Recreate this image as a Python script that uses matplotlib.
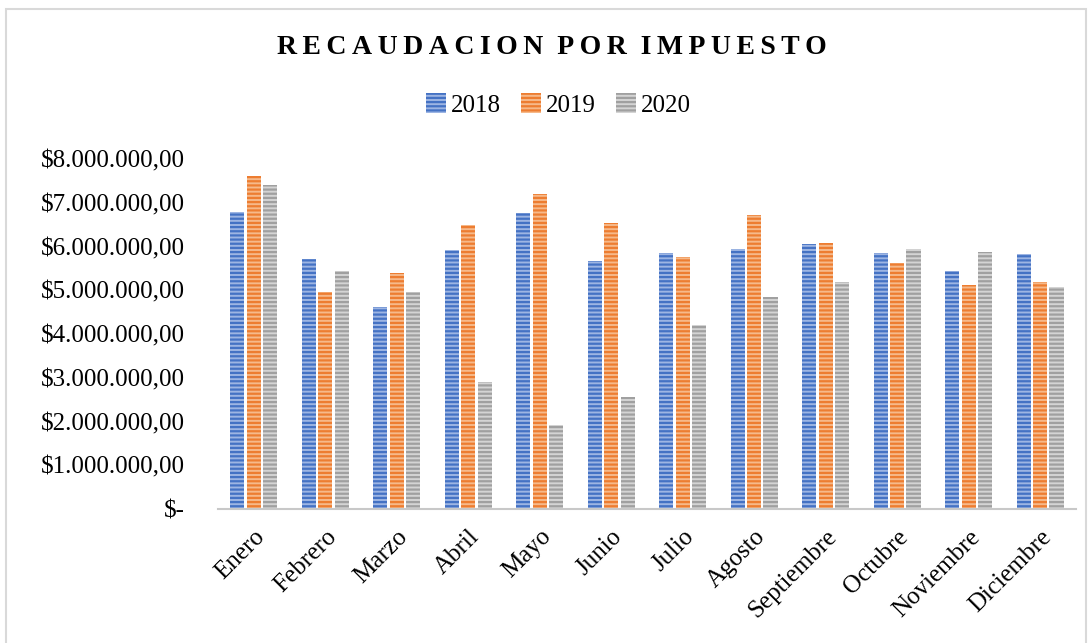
import matplotlib.pyplot as plt
import numpy as np
from matplotlib.patches import Rectangle

meses = ["Enero", "Febrero", "Marzo", "Abril", "Mayo", "Junio", "Julio",
         "Agosto", "Septiembre", "Octubre", "Noviembre", "Diciembre"]
v2018 = [6790000, 5710000, 4620000, 5920000, 6770000, 5670000,
         5850000, 5940000, 6060000, 5850000, 5440000, 5830000]
v2019 = [7610000, 4960000, 5390000, 6490000, 7200000, 6540000,
         5760000, 6720000, 6080000, 5620000, 5120000, 5190000]
v2020 = [7410000, 5440000, 4960000, 2900000, 1920000, 2560000,
         4210000, 4850000, 5190000, 5940000, 5870000, 5070000]
series = [("2018", v2018), ("2019", v2019), ("2020", v2020)]
yticks = [0, 1000000, 2000000, 3000000, 4000000, 5000000, 6000000, 7000000, 8000000]

# light fill + dark stripes, like the Excel pattern fill
colores = [("#9db5e3", "#4472c4"), ("#f6b98a", "#ed7d31"), ("#d4d4d4", "#a0a0a0")]

plt.rcParams['font.family'] = ['Liberation Serif', 'DejaVu Serif']
plt.rcParams['hatch.linewidth'] = 1.6

fig = plt.figure(figsize=(10.92, 6.43), dpi=100)
ax = fig.add_axes([0.1996, 0.2084, 0.7857, 0.5443])

x = np.arange(len(meses))
w = 0.2
for i, (nombre, vals) in enumerate(series):
    fc, hc = colores[i]
    ax.bar(x + (i - 1) * 0.23, vals, w, color=fc, edgecolor=hc,
           hatch='----', linewidth=0, label=nombre)

ax.set_xlim(-0.5, len(meses) - 0.5)
ax.set_ylim(0, 8000000)
ax.set_yticks(yticks)
ax.set_yticklabels(["$-"] + ["$%d.000.000,00" % (v // 1000000) for v in yticks[1:]])
ax.set_xticks(x)
ax.set_xticklabels(meses, rotation=45, ha='right', rotation_mode='anchor')
ax.tick_params(axis='both', length=0, labelsize=18)
ax.tick_params(axis='y', pad=24)
ax.tick_params(axis='x', pad=12)
for s in ['top', 'right', 'left']:
    ax.spines[s].set_visible(False)
ax.spines['bottom'].set_color('#c8c8c8')
ax.spines['bottom'].set_linewidth(1.5)

titulo = "  ".join("\u2009".join(p) for p in ["RECAUDACION", "POR", "IMPUESTO"])
fig.text(0.505, 0.926, titulo, ha='center', va='center', fontsize=20,
         fontweight='bold', family=['Liberation Serif', 'DejaVu Serif'])

ax.legend(loc='center', bbox_to_anchor=(0.397, 1.154), ncol=3, frameon=False,
          fontsize=18, handlelength=0.8, handleheight=0.8, handletextpad=0.2,
          columnspacing=0.8)

fig.patches.append(Rectangle((6 / 1092, -0.01), 1080 / 1092, 1 - 9 / 643 + 0.01,
                             transform=fig.transFigure, fill=False,
                             edgecolor='#d9d9d9', linewidth=1.5))

fig.savefig("out.png", dpi=100)
